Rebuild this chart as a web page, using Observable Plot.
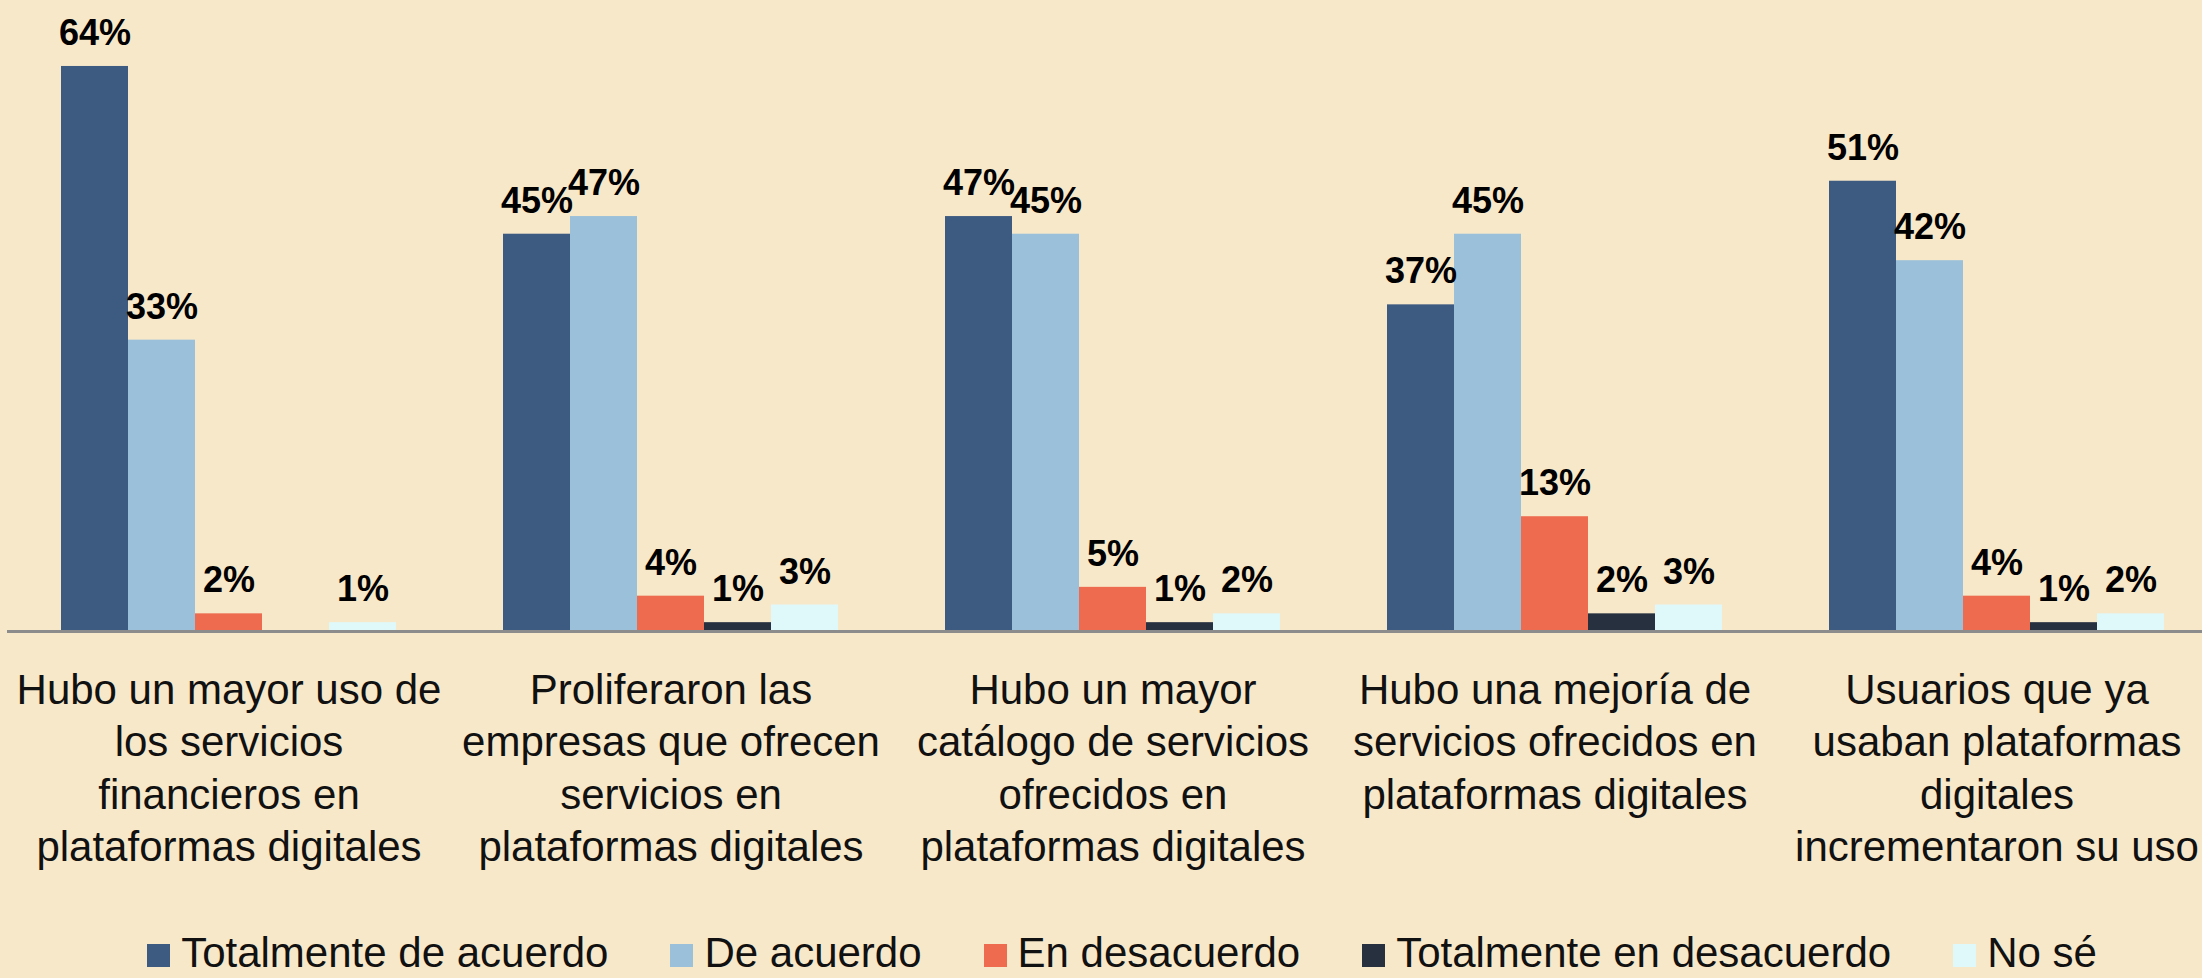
<!DOCTYPE html>
<html>
<head>
<meta charset="utf-8">
<script src="https://cdn.jsdelivr.net/npm/d3@7"></script>
<script src="https://cdn.jsdelivr.net/npm/@observablehq/plot@0.6"></script>
<style>
  html, body { margin: 0; padding: 0; background: #F7E8CA; overflow: hidden; }
  #chart svg { display: block; }
  #legend {
    display: flex; justify-content: center; align-items: baseline;
    font-family: "Liberation Sans", Arial, sans-serif; font-size: 42px; line-height: 46px;
    height: 46px; color: #111; padding-left: 42px;
  }
  .item { display: inline-flex; align-items: baseline; margin: 0 31px; white-space: nowrap; }
  .sw { display: inline-block; width: 23px; height: 23px; margin-right: 11px; }
</style>
</head>
<body>
<div id="chart"></div>
<div id="legend"></div>
<script>
const categories = [
  "Hubo un mayor uso de\nlos servicios\nfinancieros en\nplataformas digitales",
  "Proliferaron las\nempresas que ofrecen\nservicios en\nplataformas digitales",
  "Hubo un mayor\ncatálogo de servicios\nofrecidos en\nplataformas digitales",
  "Hubo una mejoría de\nservicios ofrecidos en\nplataformas digitales",
  "Usuarios que ya\nusaban plataformas\ndigitales\nincrementaron su uso"
];
const series = ["Totalmente de acuerdo", "De acuerdo", "En desacuerdo", "Totalmente en desacuerdo", "No sé"];
const colors = ["#3D5A80", "#9AC0DA", "#EE6B4F", "#27303F", "#DFF9FA"];

const totalmenteDeAcuerdo = [64, 45, 47, 37, 51];
const deAcuerdo = [33, 47, 45, 45, 42];
const enDesacuerdo = [2, 4, 5, 13, 4];
const totalmenteEnDesacuerdo = [null, 1, 1, 2, 1];
const noSe = [1, 3, 2, 3, 2];

const seriesValues = [totalmenteDeAcuerdo, deAcuerdo, enDesacuerdo, totalmenteEnDesacuerdo, noSe];
const rows = [];
categories.forEach((c, i) => {
  series.forEach((s, j) => {
    const v = seriesValues[j][i];
    if (v != null) rows.push({category: c, series: s, value: v});
  });
});

const chart = Plot.plot({
  width: 2202,
  height: 930,
  marginTop: 13,
  marginBottom: 299,
  marginLeft: 59,
  marginRight: 36,
  style: {background: "transparent", fontFamily: "'Liberation Sans', Arial, sans-serif", overflow: "visible"},
  fx: {domain: categories, paddingInner: 0.234, paddingOuter: 0, label: null},
  x: {domain: series, axis: null, padding: 0},
  y: {domain: [0, 70], axis: null},
  color: {domain: series, range: colors},
  marks: [
    Plot.barY(rows, {fx: "category", x: "series", y: "value", fill: "series"}),
    Plot.text(rows, {fx: "category", x: "series", y: "value", text: d => d.value + "%",
      dy: -33, fontSize: 36, fontWeight: "bold", fill: "#000"}),
    Plot.ruleY([0], {stroke: "#8C8C8C", strokeWidth: 3, insetLeft: -52, insetRight: -52}),
    Plot.axisFx({anchor: "bottom", tickSize: 0, tickPadding: 35, fontSize: 42, lineHeight: 1.25,
      label: null, fill: "#111"})
  ]
});
document.getElementById("chart").appendChild(chart);

const legend = document.getElementById("legend");
series.forEach((s, i) => {
  const item = document.createElement("span");
  item.className = "item";
  const sw = document.createElement("span");
  sw.className = "sw";
  sw.style.background = colors[i];
  item.appendChild(sw);
  item.appendChild(document.createTextNode(s));
  legend.appendChild(item);
});
</script>
</body>
</html>
